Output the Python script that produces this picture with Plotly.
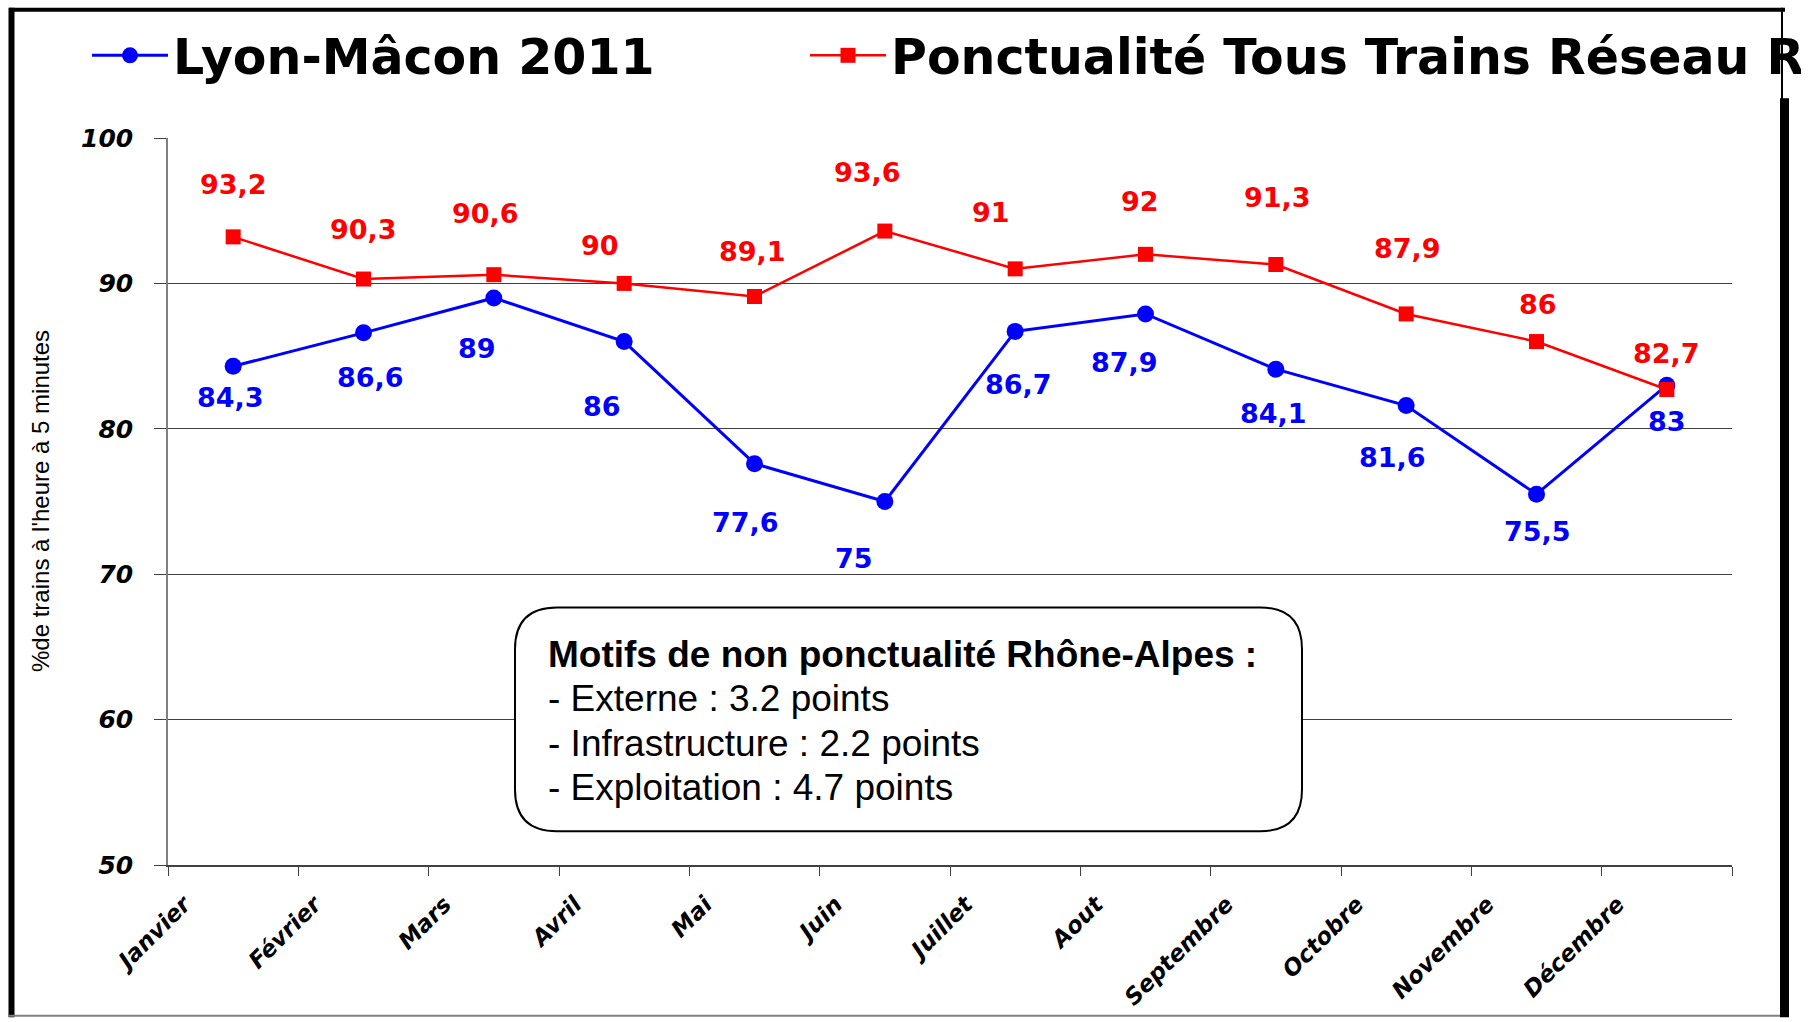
import plotly.graph_objects as go

# ---------------- data ----------------
months = ["Janvier", "Février", "Mars", "Avril", "Mai", "Juin", "Juillet",
          "Aout", "Septembre", "Octobre", "Novembre", "Décembre"]
lyon_macon = [84.3, 86.6, 89, 86, 77.6, 75, 86.7, 87.9, 84.1, 81.6, 75.5, 83]
reseau = [93.2, 90.3, 90.6, 90, 89.1, 93.6, 91, 92, 91.3, 87.9, 86, 82.7]
y_ticks = [50, 60, 70, 80, 90, 100]
series_names = ["Lyon-Mâcon 2011", "Ponctualité Tous Trains Réseau Rhône-Alpes"]
y_title = "%de trains à l'heure à 5 minutes"
box_title = "Motifs de non ponctualité Rhône-Alpes :"
box_lines = ["- Externe : 3.2 points",
             "- Infrastructure : 2.2 points",
             "- Exploitation : 4.7 points"]

# ---------------- style / layout helpers ----------------
W, H = 1814, 1022
L, R, T, B = 168, 1732, 138, 869
BLUE, RED = "#0000FF", "#FF0000"

# manual label offsets (px) as in the original chart
blue_dx = [-3, 7, -17, -22, -9, -31, 3, -21, -2, -14, 1, 0]
blue_dy = [31, 45, 51, 65, 59, 57, 53, 49, 44, 52, 37, 36]
red_dx = [0, 0, -8, -24, -2, -17, -24, -6, 2, 1, 1, 0]
red_dy = [-52, -50, -61, -38, -45, -59, -56, -53, -67, -65, -37, -36]


def px(x):
    return (x - L) / (R - L)


def py(y):
    return (B - y) / (B - T)


xpos = [i + 0.5 for i in range(len(months))]


def fmt(v):
    return f"{v:g}".replace(".", ",")


bold_font = dict(family="DejaVu Sans", weight="bold")

fig = go.Figure()
fig.add_trace(go.Scatter(
    x=xpos, y=lyon_macon, mode="lines+markers", name=series_names[0],
    line=dict(color=BLUE, width=3),
    marker=dict(symbol="circle", size=17, color=BLUE),
    legendwidth=627,
))
fig.add_trace(go.Scatter(
    x=xpos, y=reseau, mode="lines+markers", name=series_names[1],
    line=dict(color=RED, width=2.5),
    marker=dict(symbol="square", size=15, color=RED),
    legendwidth=905,
))

annotations = []
for i, (x, v) in enumerate(zip(xpos, lyon_macon)):
    annotations.append(dict(
        x=x, y=v, xref="x", yref="y", text=fmt(v), showarrow=False,
        xshift=blue_dx[i], yshift=-blue_dy[i],
        font=dict(size=27, color=BLUE, **bold_font)))
for i, (x, v) in enumerate(zip(xpos, reseau)):
    annotations.append(dict(
        x=x, y=v, xref="x", yref="y", text=fmt(v), showarrow=False,
        xshift=red_dx[i], yshift=-red_dy[i],
        font=dict(size=27, color=RED, **bold_font)))

# y-axis title
annotations.append(dict(
    x=px(40), y=py(503), xref="paper", yref="paper", text=y_title,
    textangle=-90, showarrow=False, xanchor="center", yanchor="middle",
    font=dict(family="Liberation Sans", size=24, color="black")))

# text box
annotations.append(dict(
    x=px(546), y=py(657), xref="paper", yref="paper", text=box_title,
    showarrow=False, xanchor="left", yanchor="middle",
    font=dict(family="Liberation Sans", size=37, color="black", weight="bold")))
for k, line in enumerate(box_lines):
    annotations.append(dict(
        x=px(546), y=py(702 + 44.6 * k), xref="paper", yref="paper", text=line,
        showarrow=False, xanchor="left", yanchor="middle",
        font=dict(family="Liberation Sans", size=37, color="black")))

# rounded box path
x0, x1 = px(515), px(1302)
yt, yb = py(610), py(835)
rx, ry = 42 / (R - L), 42 / (B - T)
box_path = (f"M {x0 + rx},{yt} L {x1 - rx},{yt} Q {x1},{yt} {x1},{yt - ry} "
            f"L {x1},{yb + ry} Q {x1},{yb} {x1 - rx},{yb} L {x0 + rx},{yb} "
            f"Q {x0},{yb} {x0},{yb + ry} L {x0},{yt - ry} Q {x0},{yt} {x0 + rx},{yt} Z")

shapes = [
    dict(type="path", path=box_path, xref="paper", yref="paper",
         fillcolor="white", line=dict(color="black", width=2), layer="above"),
    # outer frame
    dict(type="line", xref="paper", yref="paper", x0=px(9), x1=px(1785), y0=py(9), y1=py(9),
         line=dict(color="black", width=4)),
    dict(type="line", xref="paper", yref="paper", x0=px(11.5), x1=px(11.5), y0=py(7), y1=py(1022),
         line=dict(color="black", width=6)),
    dict(type="line", xref="paper", yref="paper", x0=px(1782), x1=px(1782), y0=py(7), y1=py(100),
         line=dict(color="black", width=2)),
    dict(type="line", xref="paper", yref="paper", x0=px(1784.5), x1=px(1784.5), y0=py(98), y1=py(1022),
         line=dict(color="black", width=9)),
    dict(type="line", xref="paper", yref="paper", x0=px(9), x1=px(1780), y0=py(1020.5), y1=py(1020.5),
         line=dict(color="#808080", width=2)),
]

fig.update_layout(
    width=W, height=H,
    margin=dict(l=L, r=W - R, t=T, b=H - B, pad=0),
    paper_bgcolor="white", plot_bgcolor="white",
    showlegend=True,
    legend=dict(
        orientation="h", xref="paper", yref="paper",
        x=px(87), y=py(55), xanchor="left", yanchor="middle",
        font=dict(size=49, color="black", **bold_font),
        itemwidth=76,
        bgcolor="rgba(0,0,0,0)", borderwidth=0,
    ),
    annotations=annotations,
    shapes=shapes,
)

tickfont = dict(family="DejaVu Sans", size=25, color="black", weight="bold", style="italic")
fig.update_yaxes(
    range=[50, 100], tickvals=y_ticks, showgrid=True, gridcolor="#404040", gridwidth=1,
    showline=True, linecolor="#808080", linewidth=1.5, ticks="outside", ticklen=12,
    tickcolor="#404040", tickfont=tickfont, ticklabelstandoff=16, zeroline=False,
    fixedrange=True,
)
fig.update_xaxes(
    range=[0, 12], tickvals=list(range(13)), ticktext=months + [""],
    tickangle=-45, showgrid=False, showline=True, linecolor="#404040", linewidth=1.5,
    ticks="outside", ticklen=9, tickcolor="#404040",
    tickfont=dict(family="DejaVu Sans", size=23, color="black", weight="bold", style="italic"),
    ticklabelshift=16, ticklabelstandoff=6, zeroline=False, fixedrange=True,
)

fig.write_html("out.html", config={"displayModeBar": False},
               post_script="document.body.style.margin='0';")
